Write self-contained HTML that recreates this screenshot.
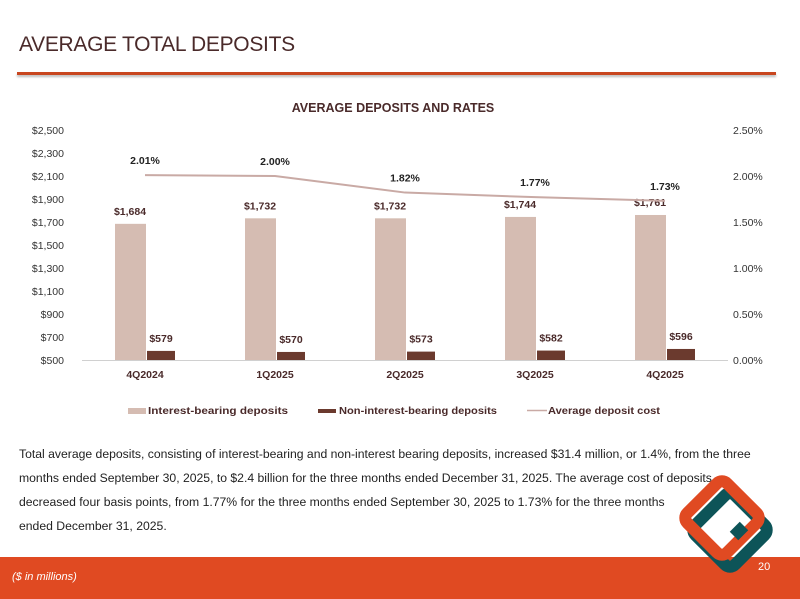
<!DOCTYPE html>
<html><head><meta charset="utf-8"><style>
body{margin:0;width:800px;height:599px;overflow:hidden;background:#fff;font-family:"Liberation Sans",sans-serif;position:relative}
.t{position:absolute}
</style></head><body>
<div class="t" style="left:19px;top:33px;font-size:21px;color:#4a2a2a;letter-spacing:-0.3px">AVERAGE TOTAL DEPOSITS</div>
<div class="t" style="left:17px;top:72px;width:759px;height:3px;background:#c8461f;box-shadow:0 2px 2px #bbb"></div>
<svg class="t" style="left:0;top:0" width="800" height="440" id="c"></svg>
<div class="t" style="left:19px;top:442px;font-size:12.2px;line-height:24px;color:#222;white-space:nowrap">Total average deposits, consisting of interest-bearing and non-interest bearing deposits, increased $31.4 million, or 1.4%, from the three<br>months ended September 30, 2025, to $2.4 billion for the three months ended December 31, 2025. The average cost of deposits<br>decreased four basis points, from 1.77% for the three months ended September 30, 2025 to 1.73% for the three months<br>ended December 31, 2025.</div>
<div class="t" style="left:0;top:557px;width:800px;height:42px;background:#e04a22"></div>
<div class="t" style="left:12px;top:571px;font-size:11px;font-style:italic;color:#fff">($ in millions)</div>
<svg class="t" style="left:660px;top:460px" width="140" height="139">
<rect x="42" y="42" width="56" height="56" rx="7" transform="rotate(45 70 70)" fill="none" stroke="#0d5458" stroke-width="12"/>
<rect x="34" y="30" width="56" height="56" rx="7" transform="rotate(45 62 58)" fill="none" stroke="#e04a22" stroke-width="12"/>
<path d="M 84 66 L 74 76" stroke="#0d5458" stroke-width="12"/>
</svg>
<div class="t" style="left:758px;top:561px;font-size:11px;color:#fff">20</div>
<script>
const categories=["4Q2024","1Q2025","2Q2025","3Q2025","4Q2025"];
const interestBearing=[1684,1732,1732,1744,1761];
const nonInterest=[579,570,573,582,596];
const depositCost=[2.01,2.00,1.82,1.77,1.73];
const leftTicks=[500,700,900,1100,1300,1500,1700,1900,2100,2300,2500];
const rightTicks=[0,0.5,1,1.5,2,2.5];
const svg=document.getElementById('c');
const NS='http://www.w3.org/2000/svg';
const y0=360,y1=130;
function yL(v){return y0-(v-500)/2000*(y0-y1);}
function yR(v){return y0-v/2.5*(y0-y1);}
function xC(i){return 145+i*130;}
function el(t,a,txt){const e=document.createElementNS(NS,t);for(const k in a)e.setAttribute(k,a[k]);if(txt!=null)e.textContent=txt;svg.appendChild(e);return e;}
let e=el('text',{x:393,y:112,'text-anchor':'middle','font-size':12.5,'font-weight':'bold',fill:'#4a2a2a'},'AVERAGE DEPOSITS AND RATES');


leftTicks.forEach(v=>{const t=el('text',{x:64,y:yL(v)+4,'text-anchor':'end','font-size':10.5,fill:'#333'},'$'+v.toLocaleString('en-US'));

});
rightTicks.forEach(v=>{const t=el('text',{x:733,y:yR(v)+4,'font-size':10.5,fill:'#333'},v.toFixed(2)+'%');

});
const ax=el('line',{x1:82,x2:728,y1:y0+0.5,y2:y0+0.5,stroke:'#d0d0d0'});


categories.forEach((c,i)=>{
 const cx=xC(i);
 let b=el('rect',{x:cx-30,y:yL(interestBearing[i]),width:31,height:y0-yL(interestBearing[i]),fill:'#d5bcb2'});
 
 
 let d=el('rect',{x:cx+2,y:yL(nonInterest[i]),width:28,height:y0-yL(nonInterest[i]),fill:'#6b3a2e'});
 
 
 let l1=el('text',{x:cx-15,y:yL(interestBearing[i])-9,'text-anchor':'middle','font-size':10.5,'font-weight':'bold',fill:'#4a2a2a'},'$'+interestBearing[i].toLocaleString('en-US'));
 
 
 let l2=el('text',{x:cx+16,y:yL(nonInterest[i])-9,'text-anchor':'middle','font-size':10.5,'font-weight':'bold',fill:'#4a2a2a'},'$'+nonInterest[i]);
 
 
 let l3=el('text',{x:cx,y:yR(depositCost[i])-11,'text-anchor':'middle','font-size':10.5,'font-weight':'bold',fill:'#222'},depositCost[i].toFixed(2)+'%');
 
 
 let cl=el('text',{x:cx,y:y0+18,'text-anchor':'middle','font-size':10.5,'font-weight':'bold',fill:'#4a2a2a'},c);
 
 
});
const pts=depositCost.map((v,i)=>xC(i)+','+yR(v)).join(' ');
let pl=el('polyline',{points:pts,fill:'none',stroke:'#c9aaa5','stroke-width':2});


let g1=el('rect',{x:128,y:408,width:18,height:6,fill:'#d5bcb2'});


let t1=el('text',{x:148,y:414,'font-size':10,'font-weight':'bold',fill:'#4a2a2a',textLength:140,lengthAdjust:'spacingAndGlyphs'},'Interest-bearing deposits');


let g2=el('rect',{x:318,y:409,width:18,height:4,fill:'#6b3a2e'});


let t2=el('text',{x:339,y:414,'font-size':10,'font-weight':'bold',fill:'#4a2a2a',textLength:158,lengthAdjust:'spacingAndGlyphs'},'Non-interest-bearing deposits');


let g3=el('line',{x1:527,x2:547,y1:410.5,y2:410.5,stroke:'#c9aaa5','stroke-width':1.5});


let t3=el('text',{x:548,y:414,'font-size':10,'font-weight':'bold',fill:'#4a2a2a',textLength:112,lengthAdjust:'spacingAndGlyphs'},'Average deposit cost');


</script>
</body></html>
